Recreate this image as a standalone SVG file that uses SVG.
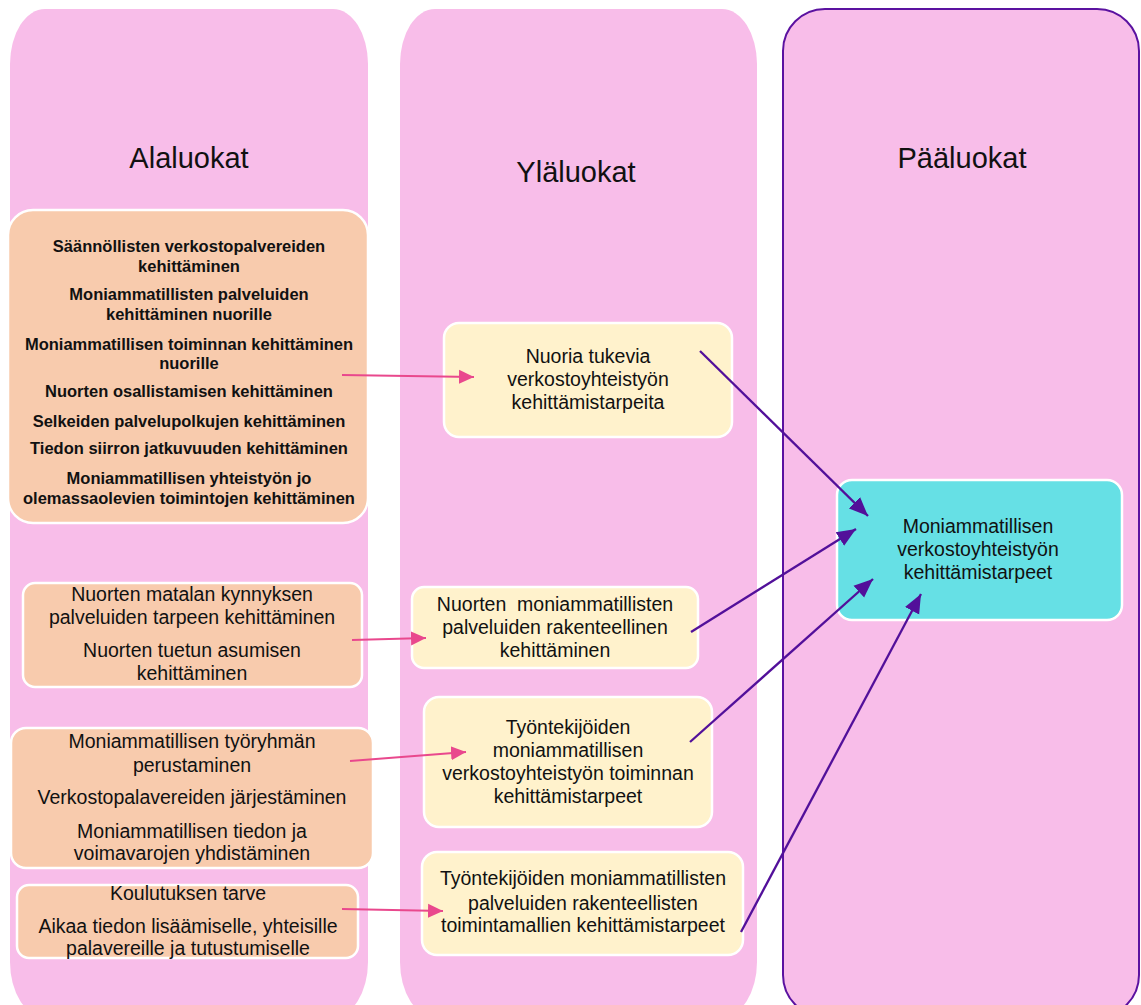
<svg xmlns="http://www.w3.org/2000/svg" width="1141" height="1005" viewBox="0 0 1141 1005">
<style>
text{font-family:"Liberation Sans",Arial,sans-serif;fill:#111;text-anchor:middle}
.title{font-size:29px}
.b{font-size:16.5px;font-weight:bold}
.n{font-size:19.5px}
.panel{fill:#F8BDE9}
.orange{fill:#F8CBAD;stroke:#fff;stroke-width:2.5}
.cream{fill:#FFF2CC;stroke:#fff;stroke-width:2.5}
.cyan{fill:#66E0E5;stroke:#fff;stroke-width:2.5}
.pk{stroke:#E9488D;stroke-width:2;fill:none}
.pu{stroke:#52109A;stroke-width:2.3;fill:none}
</style>
<defs>
<marker id="ap" markerUnits="userSpaceOnUse" markerWidth="16" markerHeight="16" viewBox="0 0 16 16" refX="15" refY="8" orient="auto"><path d="M0,1 L15,8 L0,15 Z" fill="#E9488D"/></marker>
<marker id="au" markerUnits="userSpaceOnUse" markerWidth="20" markerHeight="18" viewBox="0 0 20 18" refX="19" refY="9" orient="auto"><path d="M0,1 L19,9 L0,17 Z" fill="#52109A"/></marker>
</defs>
<g id="col-alaluokat">
<rect class="panel" x="10" y="9" width="358" height="1008" rx="35" ry="55"/>
<text class="title" x="189" y="168">Alaluokat</text>
</g>
<g id="col-ylaluokat">
<rect class="panel" x="400" y="9" width="357" height="1008" rx="35" ry="55"/>
<text class="title" x="576" y="182">Yläluokat</text>
</g>
<g id="col-paaluokat">
<rect class="panel" x="783" y="9" width="356" height="1008" rx="42" ry="42" stroke="#5B12A0" stroke-width="2"/>
<text class="title" x="962" y="168">Pääluokat</text>
</g>
<g id="a1">
<rect class="orange" x="8" y="210" width="360" height="313" rx="25"/>
<text class="b" x="189" y="252">Säännöllisten verkostopalvereiden</text>
<text class="b" x="189" y="272">kehittäminen</text>
<text class="b" x="189" y="300">Moniammatillisten palveluiden</text>
<text class="b" x="189" y="320">kehittäminen nuorille</text>
<text class="b" x="189" y="350">Moniammatillisen toiminnan kehittäminen</text>
<text class="b" x="189" y="369">nuorille</text>
<text class="b" x="189" y="397">Nuorten osallistamisen kehittäminen</text>
<text class="b" x="189" y="427">Selkeiden palvelupolkujen kehittäminen</text>
<text class="b" x="189" y="454">Tiedon siirron jatkuvuuden kehittäminen</text>
<text class="b" x="189" y="484">Moniammatillisen yhteistyön jo</text>
<text class="b" x="189" y="504">olemassaolevien toimintojen kehittäminen</text>
</g>
<g id="a2">
<rect class="orange" x="23" y="583" width="339" height="104" rx="12"/>
<text class="n" x="192" y="601">Nuorten matalan kynnyksen</text>
<text class="n" x="192" y="624">palveluiden tarpeen kehittäminen</text>
<text class="n" x="192" y="657">Nuorten tuetun asumisen</text>
<text class="n" x="192" y="680">kehittäminen</text>
</g>
<g id="a3">
<rect class="orange" x="11" y="728" width="362" height="140" rx="15"/>
<text class="n" x="192" y="748">Moniammatillisen työryhmän</text>
<text class="n" x="192" y="772">perustaminen</text>
<text class="n" x="192" y="804">Verkostopalavereiden järjestäminen</text>
<text class="n" x="192" y="838">Moniammatillisen tiedon ja</text>
<text class="n" x="192" y="860">voimavarojen yhdistäminen</text>
</g>
<g id="a4">
<rect class="orange" x="17" y="885" width="341" height="73" rx="12"/>
<text class="n" x="188" y="900">Koulutuksen tarve</text>
<text class="n" x="188" y="933">Aikaa tiedon lisäämiselle, yhteisille</text>
<text class="n" x="188" y="955">palavereille ja tutustumiselle</text>
</g>
<g id="y1">
<rect class="cream" x="444" y="323" width="288" height="114" rx="15"/>
<text class="n" x="588" y="363">Nuoria tukevia</text>
<text class="n" x="588" y="386">verkostoyhteistyön</text>
<text class="n" x="588" y="409">kehittämistarpeita</text>
</g>
<g id="y2">
<rect class="cream" x="412" y="587" width="286" height="81" rx="12"/>
<text class="n" x="555" y="611" xml:space="preserve">Nuorten  moniammatillisten</text>
<text class="n" x="555" y="634">palveluiden rakenteellinen</text>
<text class="n" x="555" y="657">kehittäminen</text>
</g>
<g id="y3">
<rect class="cream" x="424" y="697" width="288" height="130" rx="15"/>
<text class="n" x="568" y="734">Työntekijöiden</text>
<text class="n" x="568" y="757">moniammatillisen</text>
<text class="n" x="568" y="780">verkostoyhteistyön toiminnan</text>
<text class="n" x="568" y="803">kehittämistarpeet</text>
</g>
<g id="y4">
<rect class="cream" x="422" y="852" width="321" height="103" rx="15"/>
<text class="n" x="583" y="885">Työntekijöiden moniammatillisten</text>
<text class="n" x="583" y="910">palveluiden rakenteellisten</text>
<text class="n" x="583" y="932">toimintamallien kehittämistarpeet</text>
</g>
<g id="p1">
<rect class="cyan" x="837" y="480" width="285" height="140" rx="15"/>
<text class="n" x="978" y="533">Moniammatillisen</text>
<text class="n" x="978" y="556">verkostoyhteistyön</text>
<text class="n" x="978" y="579">kehittämistarpeet</text>
</g>
<g id="connectors">
<line class="pk" x1="342" y1="375" x2="474" y2="377" marker-end="url(#ap)"/>
<line class="pk" x1="352" y1="640" x2="426" y2="638" marker-end="url(#ap)"/>
<line class="pk" x1="350" y1="761" x2="466" y2="752" marker-end="url(#ap)"/>
<line class="pk" x1="342" y1="909" x2="443" y2="911" marker-end="url(#ap)"/>
<line class="pu" x1="700" y1="351" x2="868" y2="516" marker-end="url(#au)"/>
<line class="pu" x1="691" y1="632" x2="856" y2="529" marker-end="url(#au)"/>
<line class="pu" x1="690" y1="742" x2="873" y2="579" marker-end="url(#au)"/>
<line class="pu" x1="741" y1="932" x2="921" y2="594" marker-end="url(#au)"/>
</g>
</svg>
